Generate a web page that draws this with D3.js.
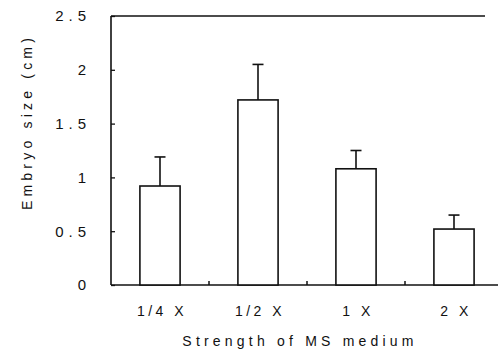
<!DOCTYPE html>
<html>
<head>
<meta charset="utf-8">
<script src="https://cdn.jsdelivr.net/npm/d3@7"></script>
<style>
  body { margin: 0; background: #fff; }
  text { font-family: 'Liberation Sans', Arial, sans-serif; fill: #111; }
</style>
</head>
<body>
<div id="root"></div>
<script>
// data
const categories = ['1/4 X', '1/2 X', '1 X', '2 X'];
const means = [0.92, 1.72, 1.08, 0.52];
const errors = [0.27, 0.33, 0.17, 0.13];
const yTicks = [0, 0.5, 1, 1.5, 2, 2.5];

const width = 499;
const height = 358;

// plot frame
const padding = { top: 16, right: -4, bottom: 73, left: 111 };
const plotBottom = height - padding.bottom;

const svg = d3.select('#root')
  .append('svg')
  .attr('width', width)
  .attr('height', height);

const x = d3.scaleBand()
  .domain(categories)
  .range([padding.left, width - padding.right])
  .paddingInner(0)
  .paddingOuter(0);

const y = d3.scaleLinear()
  .domain([0, 2.5])
  .range([plotBottom, padding.top]);

const barWidth = x.bandwidth() * 0.41;

// frame lines: left, top, bottom
const frame = svg.append('g')
  .attr('stroke', '#111')
  .attr('stroke-width', 1.6)
  .attr('fill', 'none');
frame.append('line')
  .attr('x1', padding.left).attr('x2', padding.left)
  .attr('y1', y(2.5)).attr('y2', y(0));
frame.append('line')
  .attr('x1', padding.left).attr('x2', 485)
  .attr('y1', y(2.5)).attr('y2', y(2.5));
frame.append('line')
  .attr('x1', padding.left).attr('x2', 498)
  .attr('y1', y(0)).attr('y2', y(0));

// y ticks point inward
const yAxis = d3.axisLeft(y)
  .tickValues(yTicks)
  .tickSize(-4)
  .tickPadding(20)
  .tickFormat(d3.format('~g'));
const gy = svg.append('g')
  .attr('transform', `translate(${padding.left},0)`)
  .call(yAxis);
gy.select('.domain').remove();
gy.selectAll('.tick line').attr('stroke', '#111').attr('stroke-width', 1.3);
gy.selectAll('.tick text')
  .attr('font-size', 15)
  .style('letter-spacing', '5px')
  .attr('fill', '#111');

// small x ticks between the bars, pointing up
const boundaries = categories.slice(1).map(c => x(c));
svg.append('g')
  .selectAll('line')
  .data(boundaries)
  .join('line')
  .attr('x1', d => d).attr('x2', d => d)
  .attr('y1', y(0)).attr('y2', y(0) - 4)
  .attr('stroke', '#111')
  .attr('stroke-width', 1.5);

// bars
svg.append('g')
  .selectAll('rect')
  .data(means)
  .join('rect')
  .attr('x', (d, i) => x(categories[i]) + x.bandwidth() / 2 - barWidth / 2)
  .attr('y', d => y(d))
  .attr('width', barWidth)
  .attr('height', d => y(0) - y(d))
  .attr('fill', '#fff')
  .attr('stroke', '#111')
  .attr('stroke-width', 1.6);

// error bars (upper only)
const errG = svg.append('g')
  .attr('stroke', '#111')
  .attr('stroke-width', 1.6);
errG.selectAll('.err-v')
  .data(means)
  .join('line')
  .attr('class', 'err-v')
  .attr('x1', (d, i) => x(categories[i]) + x.bandwidth() / 2)
  .attr('x2', (d, i) => x(categories[i]) + x.bandwidth() / 2)
  .attr('y1', d => y(d))
  .attr('y2', (d, i) => y(d + errors[i]));
errG.selectAll('.err-cap')
  .data(means)
  .join('line')
  .attr('class', 'err-cap')
  .attr('x1', (d, i) => x(categories[i]) + x.bandwidth() / 2 - 5.5)
  .attr('x2', (d, i) => x(categories[i]) + x.bandwidth() / 2 + 5.5)
  .attr('y1', (d, i) => y(d + errors[i]))
  .attr('y2', (d, i) => y(d + errors[i]));

// x labels
svg.append('g')
  .selectAll('text')
  .data(categories)
  .join('text')
  .attr('x', d => x(d) + x.bandwidth() / 2 + 2)
  .attr('y', 316)
  .attr('text-anchor', 'middle')
  .attr('font-size', 14)
  .style('letter-spacing', '3.5px')
  .text(d => d);

// axis titles
svg.append('text')
  .attr('x', 300)
  .attr('y', 346)
  .attr('text-anchor', 'middle')
  .attr('font-size', 14)
  .style('letter-spacing', '4.2px')
  .text('Strength of MS medium');

svg.append('text')
  .attr('transform', 'translate(32,122) rotate(-90)')
  .attr('text-anchor', 'middle')
  .attr('font-size', 14)
  .style('letter-spacing', '4.2px')
  .text('Embryo size (cm)');
</script>
</body>
</html>
